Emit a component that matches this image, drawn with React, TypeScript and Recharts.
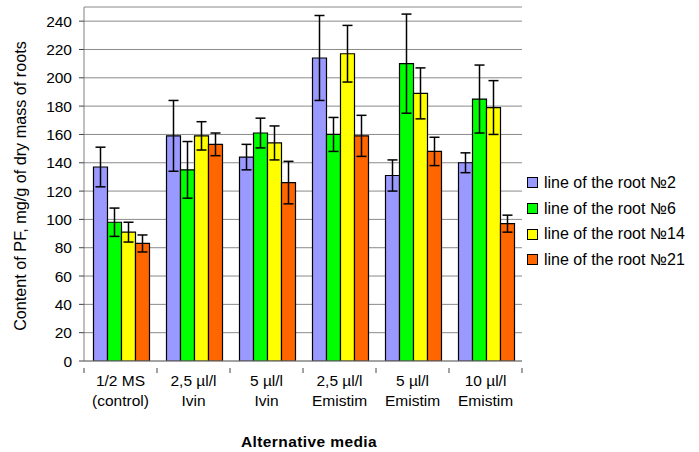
import React from 'react';
import { BarChart, Bar, XAxis, YAxis, CartesianGrid, Legend, ErrorBar, Label } from 'recharts';

const mediaLine1 = ['1/2 MS', '2,5 µl/l', '5 µl/l', '2,5 µl/l', '5 µl/l', '10 µl/l'];
const mediaLine2 = ['(control)', 'Ivin', 'Ivin', 'Emistim', 'Emistim', 'Emistim'];

const root2 = [137, 159, 144, 214, 131, 140];
const root2Err = [14, 25, 9, 30, 11, 7];
const root6 = [98, 135, 161, 160, 210, 185];
const root6Err = [10, 20, 10.5, 12, 35, 24];
const root14 = [91, 159, 154, 217, 189, 179];
const root14Err = [7, 10, 12, 20, 18, 19];
const root21 = [83, 153, 126, 159, 148, 97];
const root21Err = [6, 8, 15, 14.5, 10, 6];

const yTicks = [0, 20, 40, 60, 80, 100, 120, 140, 160, 180, 200, 220, 240];

const seriesInfo = [
  { key: 'r2', err: 'r2e', name: 'line of the root №2', color: '#9999FF' },
  { key: 'r6', err: 'r6e', name: 'line of the root №6', color: '#00FF00' },
  { key: 'r14', err: 'r14e', name: 'line of the root №14', color: '#FFFF00' },
  { key: 'r21', err: 'r21e', name: 'line of the root №21', color: '#FF6600' },
];

const data = mediaLine1.map((l1, i) => ({
  cat: i,
  l1,
  l2: mediaLine2[i],
  r2: root2[i], r2e: root2Err[i],
  r6: root6[i], r6e: root6Err[i],
  r14: root14[i], r14e: root14Err[i],
  r21: root21[i], r21e: root21Err[i],
}));

const FONT = '"Liberation Sans", Arial, sans-serif';

const CategoryTick = (props: any) => {
  const { x, y, payload, width, visibleTicksCount, index } = props;
  const d = data[payload.value];
  const band = width / (visibleTicksCount || data.length);
  const y0 = y - 1;
  return (
    <g>
      <line x1={x - band / 2} x2={x - band / 2} y1={y0} y2={y0 + 5} stroke="#444" />
      {index === (visibleTicksCount || data.length) - 1 && (
        <line x1={x + band / 2} x2={x + band / 2} y1={y0} y2={y0 + 5} stroke="#444" />
      )}
      <text x={x} y={y + 17} textAnchor="middle" fontSize={15.5} fontFamily={FONT} fill="#000">{d ? d.l1 : ''}</text>
      <text x={x} y={y + 37} textAnchor="middle" fontSize={15.5} fontFamily={FONT} fill="#000">{d ? d.l2 : ''}</text>
    </g>
  );
};

const LegendContent = () => (
  <div style={{ width: 170, fontFamily: FONT, fontSize: 16, color: '#000' }}>
    {seriesInfo.map((s) => (
      <div key={s.key} style={{ height: 25.7, display: 'flex', alignItems: 'center' }}>
        <span style={{ display: 'inline-block', width: 9, height: 9, background: s.color, border: '1px solid #000', marginLeft: 7, marginRight: 6 }} />
        <span style={{ whiteSpace: 'nowrap' }}>{s.name}</span>
      </div>
    ))}
  </div>
);

export default function App() {
  return (
    <div style={{ position: 'absolute', left: 0, top: 0, background: '#fff' }}>
      <BarChart
        width={699}
        height={452}
        data={data}
        margin={{ top: 7, right: 7, left: 0, bottom: 0 }}
        barCategoryGap={9.5}
        barGap={0}
      >
        <CartesianGrid vertical={false} stroke="#8a8a8a" strokeWidth={1} />
        <XAxis
          dataKey="cat"
          height={91}
          axisLine={{ stroke: '#808080' }}
          tickLine={false}
          interval={0}
          tick={<CategoryTick />}
        >
          <Label
            content={(p: any) => {
              const vb = p.viewBox;
              return (
                <text x={vb.x + vb.width / 2 + 6} y={447} textAnchor="middle" fontSize={15.5} fontWeight="bold" fontFamily={FONT} letterSpacing={0.4} fill="#000">
                  Alternative media
                </text>
              );
            }}
          />
        </XAxis>
        <YAxis
          width={84}
          domain={[0, 250]}
          ticks={yTicks}
          allowDataOverflow
          axisLine={{ stroke: '#808080' }}
          tickLine={{ stroke: '#444' }}
          tickSize={5}
          tickMargin={7}
          tick={{ fontSize: 15.5, fontFamily: FONT, fill: '#000' }}
        >
          <Label
            content={() => (
              <text x={26} y={186} transform="rotate(-90 26 186)" textAnchor="middle" fontSize={16.2} fontFamily={FONT} fill="#000">
                Content of PF, mg/g of dry mass of roots
              </text>
            )}
          />
        </YAxis>
        <Legend
          layout="vertical"
          align="right"
          verticalAlign="middle"
          content={<LegendContent />}
          wrapperStyle={{ left: 520, top: 170 }}
        />
        {seriesInfo.map((s) => (
          <Bar key={s.key} dataKey={s.key} name={s.name} fill={s.color} stroke="#000" strokeWidth={1.2} isAnimationActive={false}>
            <ErrorBar dataKey={s.err} width={5} stroke="#000" strokeWidth={1.5} />
          </Bar>
        ))}
      </BarChart>
    </div>
  );
}
